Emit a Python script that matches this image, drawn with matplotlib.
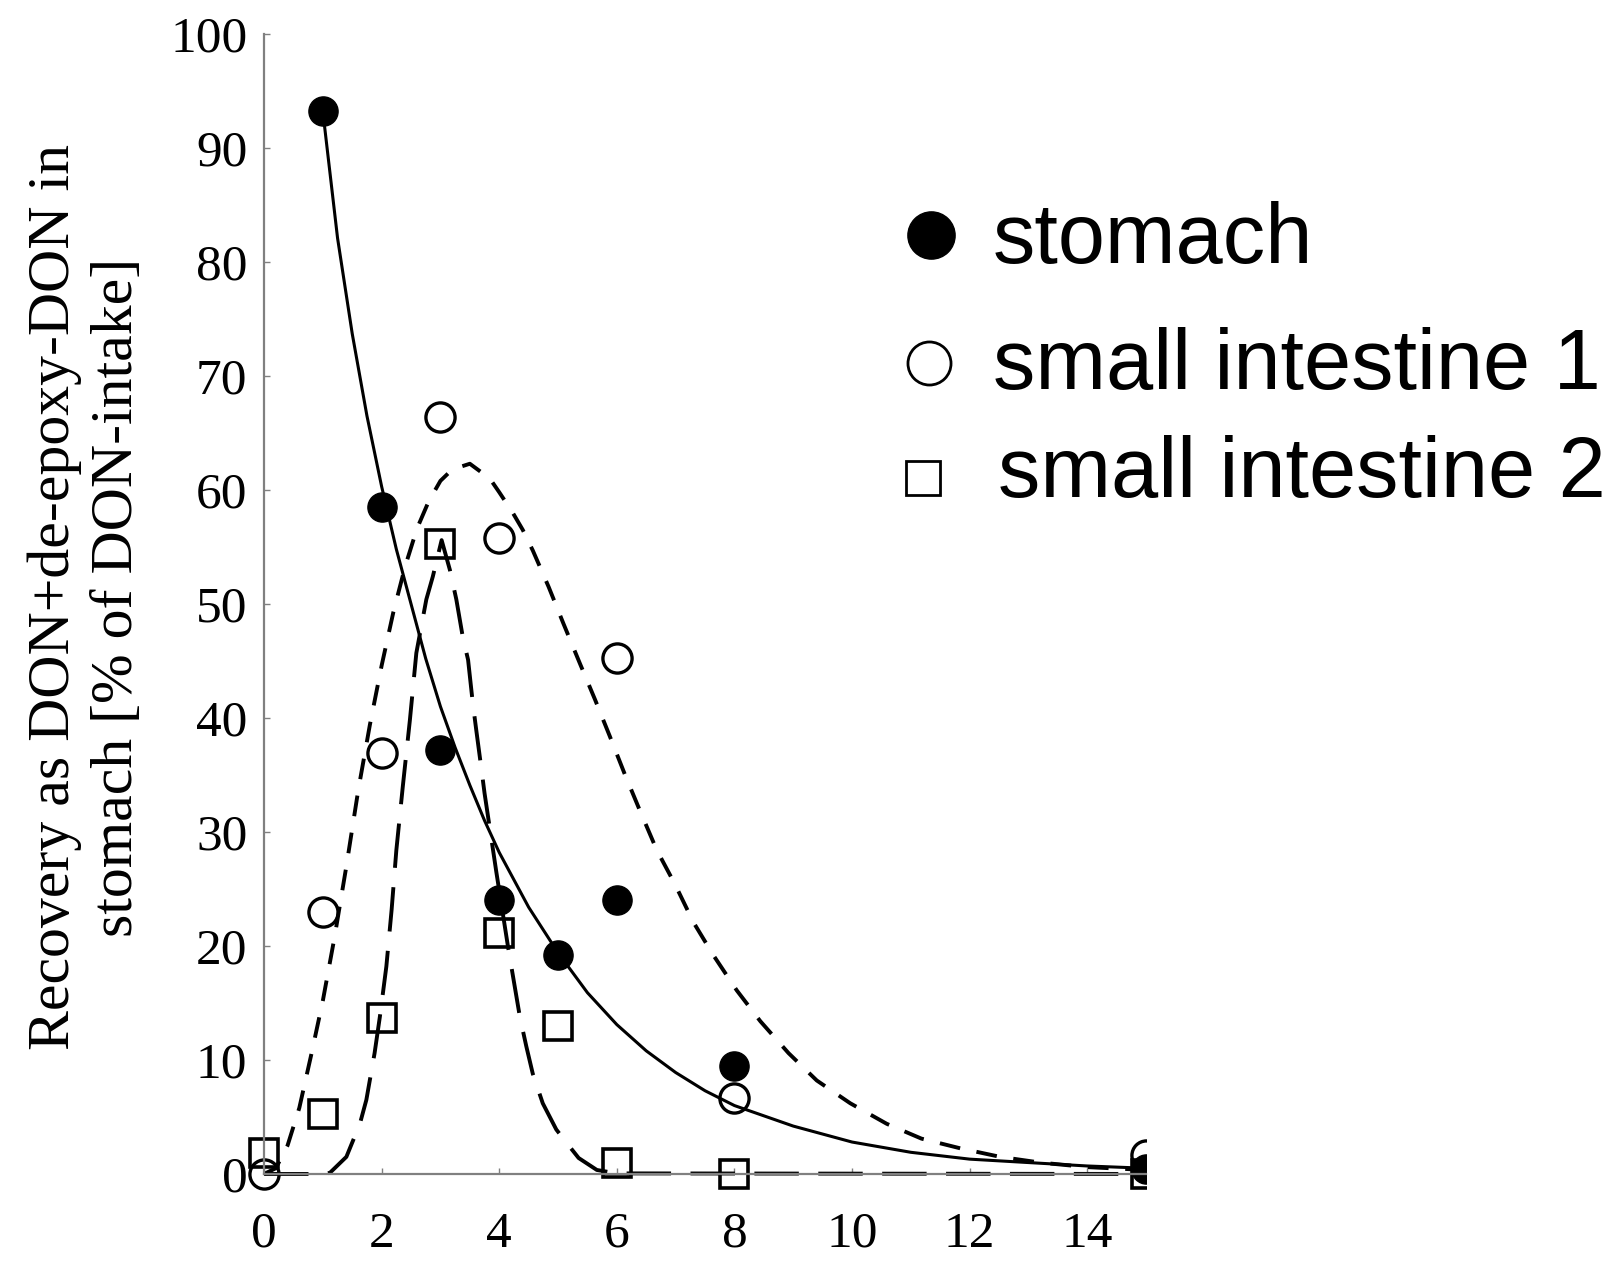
import matplotlib
matplotlib.use('Agg')
import matplotlib.pyplot as plt
from matplotlib.lines import Line2D
from matplotlib.patches import Rectangle

# measured points (time in h, % of DON intake)
stomach_x = [1, 2, 3, 4, 5, 6, 8, 15]
stomach_y = [93.2, 58.5, 37.2, 24.0, 19.2, 24.0, 9.5, 0.4]
si1_x = [0, 1, 2, 3, 4, 6, 8, 15]
si1_y = [0.0, 23.0, 36.9, 66.4, 55.8, 45.3, 6.7, 1.7]
si2_x = [0, 1, 2, 3, 4, 5, 6, 8, 15]
si2_y = [1.8, 5.3, 13.7, 55.3, 21.1, 13.0, 1.0, 0.0, 0.0]

# fitted curves
stomach_fit_x = [1.0, 1.25, 1.5, 1.75, 2.0, 2.25, 2.5, 2.75, 3.0, 3.25, 3.5, 3.75,
                 4.0, 4.5, 5.0, 5.5, 6.0, 6.5, 7.0, 7.5, 8.0, 9.0, 10.0, 11.0,
                 12.0, 13.0, 14.0, 15.0]
stomach_fit_y = [93.2, 82.1, 73.7, 66.5, 60.3, 54.8, 50.0, 45.2, 41.0, 37.4, 34.1, 31.0,
                 28.2, 23.4, 19.4, 15.9, 13.1, 10.8, 8.9, 7.3, 6.0, 4.2, 2.8, 1.9,
                 1.3, 1.0, 0.7, 0.5]
si1_fit_x = [0.0, 0.2, 0.4, 0.6, 0.8, 1.0, 1.2, 1.4, 1.6, 1.8, 2.0, 2.2, 2.4, 2.6,
             2.8, 3.0, 3.2, 3.5, 3.84, 4.0, 4.23, 4.4, 4.57, 4.84, 5.09, 5.37, 5.63,
             5.88, 6.14, 6.39, 6.68, 6.99, 7.30, 7.64, 8.04, 8.44, 8.92, 9.40, 9.97,
             10.59, 11.18, 11.84, 12.52, 13.2, 14.0, 15.0]
si1_fit_y = [0.0, 0.5, 2.5, 5.8, 10.4, 15.2, 20.8, 27.0, 33.6, 39.4, 44.6, 49.3, 53.3, 56.6,
             59.0, 60.8, 61.8, 62.3, 61.0, 59.8, 58.0, 56.5, 54.7, 51.5, 48.3, 44.8, 41.6,
             38.4, 35.0, 31.9, 28.4, 25.4, 22.1, 19.2, 16.1, 13.4, 10.6, 8.2, 6.2,
             4.4, 3.1, 2.25, 1.5, 1.0, 0.6, 0.35]
si2_fit_x = [0.0, 1.0, 1.12, 1.40, 1.63, 1.74, 1.88, 1.97, 2.08, 2.17, 2.25, 2.36, 2.48,
             2.59, 2.76, 2.87, 3.02, 3.16, 3.27, 3.38, 3.47, 3.55, 3.61, 3.70, 3.75,
             3.95, 4.15, 4.35, 4.46, 4.57, 4.74, 4.97, 5.15, 5.35, 5.66, 6.0, 15.0]
si2_fit_y = [0.0, 0.0, 0.1, 1.5, 4.4, 6.5, 10.6, 13.8, 18.2, 23.2, 28.4, 34.0, 39.8,
             45.7, 50.4, 52.4, 55.6, 53.0, 50.4, 47.1, 45.1, 41.3, 38.9, 35.4, 33.4,
             26.5, 19.9, 13.8, 11.2, 8.8, 6.2, 3.9, 2.7, 1.4, 0.35, 0.05, 0.0]

legend_labels = ['stomach', 'small intestine 1', 'small intestine 2']
x_ticks = [0, 2, 4, 6, 8, 10, 12, 14]
y_ticks = [0, 10, 20, 30, 40, 50, 60, 70, 80, 90, 100]
y_label = 'Recovery as DON+de-epoxy-DON in\nstomach [% of DON-intake]'


def draw(ax):
    # markers may hang below the axis, but are cut at x = 15
    clip = Rectangle((-0.05, -0.06), 1.05, 1.12, transform=ax.transAxes,
                     facecolor='none', edgecolor='none')
    arts = []
    arts += ax.plot(stomach_fit_x, stomach_fit_y, color='black', lw=2.2)
    l1, = ax.plot(si1_fit_x, si1_fit_y, color='black', lw=2.8)
    l1.set_dashes((15, 12))
    l2, = ax.plot(si2_fit_x, si2_fit_y, color='black', lw=2.8)
    l2.set_dashes((32, 14))
    arts += [l1, l2]
    arts += ax.plot(stomach_x, stomach_y, 'o', color='black', ms=21, mew=1)
    arts += ax.plot(si1_x, si1_y, 'o', mfc='none', mec='black', ms=21, mew=2.4)
    arts += ax.plot(si2_x, si2_y, 's', mfc='none', mec='black', ms=20, mew=2.6)
    for a in arts:
        a.set_clip_path(clip)


def style(ax):
    ax.set_xlim(0, 15)
    ax.set_ylim(0, 100)
    ax.set_xticks(x_ticks)
    ax.set_yticks(y_ticks)
    for s in ['top', 'right']:
        ax.spines[s].set_visible(False)
    for s in ['left', 'bottom']:
        ax.spines[s].set_color('#808080')
        ax.spines[s].set_linewidth(1.6)
    ax.tick_params(direction='in', length=4, width=1, color='#808080',
                   labelsize=37)
    ax.tick_params(axis='x', pad=27)
    ax.tick_params(axis='y', pad=12)


def legend(fig):
    marks = [dict(marker='o', color='black', ms=34),
             dict(marker='o', mfc='none', mec='black', ms=31, mew=2),
             dict(marker='s', mfc='none', mec='black', ms=25, mew=2)]
    mpos = [(0.5771, 0.8143), (0.5759, 0.7125), (0.5720, 0.6213)]
    tpos = [(0.6154, 0.7918), (0.6154, 0.6920), (0.6186, 0.6065)]
    for lab, m, mp, tp in zip(legend_labels, marks, mpos, tpos):
        fig.add_artist(Line2D([mp[0]], [mp[1]], transform=fig.transFigure,
                              linestyle='none', **m))
        fig.text(tp[0], tp[1], lab, fontsize=61, family='Liberation Sans',
                 ha='left', va='baseline')


def main():
    plt.rcParams['font.family'] = ['Liberation Serif', 'DejaVu Serif']
    plt.rcParams['lines.scale_dashes'] = False
    fig = plt.figure(figsize=(16.13, 12.63), dpi=100)
    ax = fig.add_axes([0.1637, 0.0705, 0.7105 - 0.1637, 0.9731 - 0.0705])
    draw(ax)
    style(ax)
    legend(fig)
    fig.text(0.0535, 0.527, y_label, rotation=90, ha='center', va='center',
             ma='center', fontsize=43, linespacing=1.2)
    fig.savefig('out.png', dpi=100)


if __name__ == '__main__':
    main()
